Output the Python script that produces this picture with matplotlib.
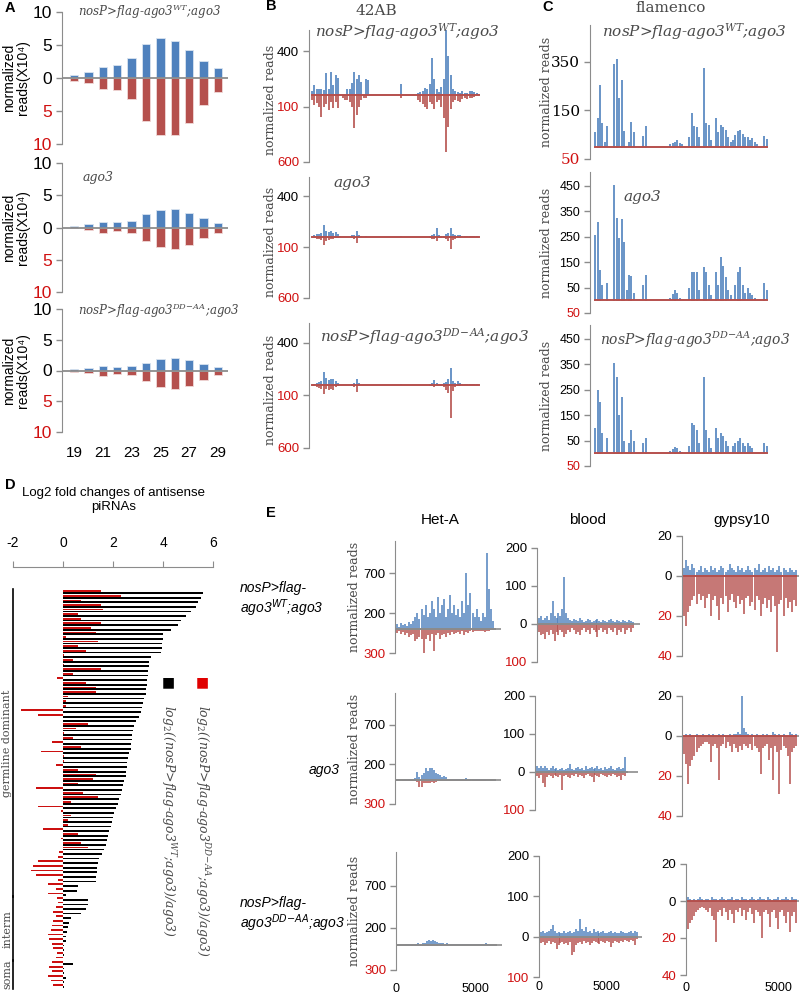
import matplotlib
matplotlib.use('Agg')
import matplotlib.pyplot as plt
import numpy as np

plt.rcParams['font.family'] = ['Liberation Sans', 'DejaVu Sans']

# ---------------- data ----------------
# A: length distribution of small RNAs, reads x10^4 (sense up, antisense down)
a_lengths = [19, 20, 21, 22, 23, 24, 25, 26, 27, 28, 29]
a_wt_sense = [0.5, 0.9, 1.7, 1.9, 3.1, 5.1, 6.0, 5.6, 4.3, 2.6, 1.5]
a_wt_anti = [0.4, 0.8, 1.7, 1.8, 3.2, 6.5, 8.6, 8.7, 6.8, 4.1, 2.1]
a_ago3_sense = [0.3, 0.5, 0.9, 0.8, 1.0, 2.1, 2.7, 2.8, 2.3, 1.4, 0.7]
a_ago3_anti = [0.15, 0.4, 0.8, 0.5, 0.9, 2.1, 3.0, 3.3, 2.7, 1.6, 0.8]
a_ddaa_sense = [0.3, 0.4, 0.8, 0.5, 0.7, 1.3, 1.9, 2.0, 1.7, 1.1, 0.6]
a_ddaa_anti = [0.2, 0.4, 0.9, 0.5, 0.8, 1.7, 2.7, 3.0, 2.6, 1.6, 0.8]

# B: 42AB cluster, normalized reads per bin
b_wt_up = [40, 90, 60, 55, 60, 50, 200, 60, 210, 90, 180, 160,
           0, 0, 0, 60, 60, 110, 210, 150, 180, 120, 0, 150,
           140, 0, 0, 0, 0, 0, 0, 0, 0, 0, 0, 0,
           0, 0, 100, 0, 0, 0, 0, 0, 0, 20, 30, 40,
           70, 60, 100, 340, 150, 60, 30, 80, 150, 590, 360, 180,
           60, 40, 30, 20, 40, 20, 20, 40, 40, 30, 20, 10]
b_wt_down = [40, 90, 70, 100, 190, 100, 80, 130, 60, 110, 60, 110,
             0, 20, 40, 40, 60, 100, 290, 180, 100, 40, 20, 20,
             0, 0, 0, 0, 0, 0, 0, 0, 0, 0, 0, 0,
             0, 0, 20, 0, 0, 0, 0, 0, 0, 40, 60, 80,
             100, 120, 60, 80, 120, 60, 40, 100, 200, 510, 280, 120,
             60, 40, 50, 60, 30, 20, 30, 20, 20, 10, 0, 0]
b_ago3_up = [0, 20, 30, 30, 40, 120, 60, 50, 60, 40, 50, 30,
             10, 0, 0, 0, 0, 20, 20, 60, 20, 10, 0, 10,
             0, 0, 0, 0, 0, 0, 0, 0, 0, 0, 0, 0,
             0, 0, 10, 0, 0, 0, 0, 0, 0, 0, 0, 0,
             0, 0, 10, 20, 30, 90, 20, 10, 10, 30, 40, 90,
             30, 15, 15, 15, 10, 10, 10, 10, 10, 10, 5, 0]
b_ago3_down = [0, 10, 20, 20, 30, 80, 40, 30, 20, 15, 10, 10,
               0, 0, 0, 0, 0, 10, 20, 60, 10, 0, 0, 0,
               0, 0, 0, 0, 0, 0, 0, 0, 0, 0, 0, 0,
               0, 0, 0, 0, 0, 0, 0, 0, 0, 0, 0, 0,
               0, 0, 10, 20, 20, 40, 10, 10, 10, 20, 40, 120,
               30, 20, 10, 10, 5, 5, 5, 5, 5, 5, 0, 0]
b_ddaa_up = [0, 10, 20, 30, 40, 120, 65, 50, 60, 55, 40, 20,
             0, 0, 0, 0, 0, 10, 20, 55, 15, 0, 0, 0,
             0, 0, 0, 0, 0, 0, 0, 0, 0, 0, 0, 0,
             0, 0, 10, 0, 0, 0, 0, 0, 0, 0, 0, 0,
             0, 0, 10, 20, 45, 20, 10, 10, 20, 30, 60, 160,
             40, 20, 35, 15, 10, 10, 10, 5, 5, 5, 5, 0]
b_ddaa_down = [0, 10, 20, 30, 40, 85, 40, 50, 40, 45, 20, 10,
               0, 0, 0, 0, 0, 10, 20, 65, 10, 0, 0, 0,
               0, 0, 0, 0, 0, 0, 0, 0, 0, 0, 0, 0,
               0, 0, 0, 0, 0, 0, 0, 0, 0, 0, 0, 0,
               0, 0, 10, 10, 20, 10, 10, 10, 20, 50, 80, 310,
               60, 20, 10, 10, 5, 0, 0, 0, 0, 0, 0, 0]

# C: flamenco cluster
c_wt_up = [60, 120, 256, 100, 20, 85, 0, 0, 340, 360, 200, 276,
           66, 0, 20, 104, 60, 0, 0, 0, 45, 87, 0, 0,
           0, 0, 0, 0, 0, 0, 0, 10, 15, 20, 30, 15,
           10, 0, 0, 40, 138, 87, 80, 40, 0, 324, 100, 90,
           30, 0, 117, 60, 90, 83, 70, 40, 20, 30, 50, 66,
           70, 55, 40, 40, 30, 35, 20, 10, 0, 0, 45, 33]
c_wt_down = [2, 3, 3, 2, 0, 2, 0, 0, 3, 3, 2, 3,
             2, 0, 0, 2, 2, 0, 0, 0, 2, 2, 0, 0,
             0, 0, 0, 0, 0, 0, 0, 0, 0, 0, 2, 0,
             0, 0, 0, 2, 3, 2, 2, 0, 0, 3, 2, 2,
             0, 0, 2, 2, 2, 2, 2, 0, 0, 0, 2, 2,
             2, 2, 0, 0, 0, 0, 0, 0, 0, 0, 2, 0]
c_ago3_up = [256, 307, 118, 60, 0, 70, 0, 0, 452, 322, 244, 320,
             230, 40, 100, 97, 30, 0, 0, 0, 60, 100, 0, 0,
             0, 0, 0, 0, 0, 0, 0, 10, 25, 40, 30, 10,
             0, 0, 0, 50, 110, 110, 110, 40, 0, 133, 110, 60,
             20, 0, 110, 60, 170, 135, 90, 40, 20, 0, 60, 110,
             133, 60, 30, 50, 30, 20, 10, 0, 0, 0, 70, 40]
c_ago3_down = [3, 3, 2, 0, 0, 2, 0, 0, 3, 3, 2, 2,
               2, 0, 2, 2, 0, 0, 0, 0, 0, 2, 0, 0,
               0, 0, 0, 0, 0, 0, 0, 0, 0, 2, 0, 0,
               0, 0, 0, 0, 2, 2, 2, 0, 0, 2, 2, 0,
               0, 0, 2, 0, 2, 2, 2, 0, 0, 0, 0, 2,
               2, 0, 0, 0, 0, 0, 0, 0, 0, 0, 2, 0]
c_ddaa_up = [100, 250, 200, 80, 0, 60, 0, 0, 355, 300, 150, 220,
             50, 0, 40, 90, 50, 0, 0, 0, 40, 60, 0, 0,
             0, 0, 0, 0, 0, 0, 0, 10, 15, 25, 20, 10,
             5, 0, 0, 30, 120, 110, 90, 40, 0, 300, 90, 60,
             20, 0, 100, 60, 80, 70, 50, 30, 0, 30, 40, 50,
             60, 40, 30, 40, 30, 20, 0, 0, 0, 0, 40, 30]
c_ddaa_down = [2, 3, 2, 0, 0, 0, 0, 0, 3, 2, 2, 2,
               0, 0, 0, 2, 0, 0, 0, 0, 0, 2, 0, 0,
               0, 0, 0, 0, 0, 0, 0, 0, 0, 2, 0, 0,
               0, 0, 0, 0, 2, 2, 0, 0, 0, 2, 0, 0,
               0, 0, 2, 0, 2, 0, 0, 0, 0, 0, 0, 2,
               0, 0, 0, 0, 0, 0, 0, 0, 0, 0, 2, 0]

# D: log2 fold changes of antisense piRNAs (germline dominant / intermediate / somatic)
d_black = [5.6, 5.5, 5.4, 5.3, 5.1, 4.9, 4.7, 4.6, 4.3,
           4.0, 4.0, 3.95, 3.95, 3.9,
           3.5, 3.45, 3.45, 3.4, 3.4, 3.35, 3.35, 3.3, 3.3, 3.25, 3.2, 3.15, 3.1, 3.05,
           2.9, 2.85, 2.8, 2.75, 2.75, 2.7, 2.7, 2.65, 2.6, 2.55,
           2.55, 2.5, 2.5, 2.45, 2.4, 2.35, 2.3,
           2.25, 2.2, 2.1, 2.05,
           2.0, 1.95, 1.9, 1.85,
           1.8, 1.75,
           1.7, 1.65, 1.55, 1.45, 1.4, 1.35, 1.35, 1.3, 1.3, 0.6, 0.55, 0.1,
           1.0, 1.0, 0.9, 0.7, 0.3, 0.25, 0.2, 0.15, 0.1, 0.1, 0.05, 0.05, 0.02, 0.0,
           0.4, 0.05, 0.05, 0.1, 0.05, 0.05]
d_red = [1.5, 2.3, 0.7, 1.5, 1.6, 0.6, 0.7, 1.5, 1.1,
         1.3, 0.1, 1.4, 0.6, 0.9,
         0.05, 0.4, 0.05, 1.5, 0.4, -0.25, 0.9, 1.3, 1.3, 0.2, 0.1, 0.1, -1.7, -1.0,
         0.0, 1.0, 0.5, 0.05, 0.4, -0.45, 0.7, -0.9, 0.05, 0.05,
         -0.3, 0.6, 1.3, 1.2, 0.6, -1.1, 0.8,
         1.4, 0.3, -1.0, -0.1,
         0.3, 0.2, 0.2, -0.8,
         0.6, -0.1,
         0.7, 1.0, -0.15, -0.2, -1.0, -1.2, -1.3, -1.1, -0.2, -0.6, -0.3, -0.6,
         -0.25, -0.2, -0.3, -0.4, -0.3, -0.4, -0.45, -0.5, -0.6, -0.55, -0.45, -0.4, -0.25, -0.3,
         -0.45, -0.55, -0.45, -0.6, -0.5, -0.4]
d_groups = ['germline dominant', 'interm', 'soma']
d_group_sizes = [67, 14, 6]
d_ticks = [-2, 0, 2, 4, 6]

# E: transposon coverage (Het-A, blood, gypsy10)
e_heta_wt_up = [40, 60, 30, 80, 50, 60, 40, 90, 60, 100,
                150, 200, 120, 250, 180, 300, 150, 200, 350, 250,
                150, 400, 200, 300, 380, 150, 250, 420, 200, 300,
                180, 250, 150, 350, 200, 700, 300, 450, 200, 150,
                250, 150, 100, 200, 150, 950, 500, 250, 100, 0]
e_heta_wt_down = [30, 50, 20, 60, 40, 80, 50, 100, 80, 60,
                  150, 120, 100, 120, 300, 120, 80, 150, 60, 280,
                  80, 50, 120, 80, 60, 100, 50, 80, 40, 60,
                  50, 40, 60, 30, 80, 40, 50, 30, 40, 20,
                  30, 20, 30, 20, 40, 30, 20, 10, 10, 0]
e_heta_ago3_up = [0, 0, 0, 0, 5, 10, 5, 10, 15, 20,
                  30, 100, 40, 60, 90, 160, 120, 150, 160, 130,
                  90, 80, 60, 40, 50, 40, 20, 20, 10, 15,
                  20, 10, 15, 10, 20, 25, 15, 20, 10, 15,
                  10, 20, 10, 15, 10, 0, 0, 0, 0, 0]
e_heta_ago3_down = [0, 0, 0, 0, 5, 5, 5, 10, 5, 10,
                    10, 20, 90, 80, 30, 40, 30, 40, 20, 30,
                    20, 10, 15, 10, 10, 5, 10, 5, 5, 10,
                    5, 5, 10, 5, 5, 10, 5, 5, 5, 5,
                    5, 5, 5, 5, 5, 0, 0, 0, 0, 0]
e_heta_ddaa_up = [0, 0, 0, 0, 0, 5, 5, 10, 5, 10,
                  10, 15, 10, 20, 20, 40, 60, 50, 60, 40,
                  30, 20, 20, 15, 10, 15, 10, 10, 5, 10,
                  10, 5, 10, 5, 10, 10, 5, 10, 5, 10,
                  5, 10, 5, 10, 15, 5, 0, 0, 0, 0]
e_heta_ddaa_down = [0, 0, 0, 0, 0, 5, 5, 5, 10, 5,
                    10, 5, 10, 15, 20, 15, 20, 10, 15, 10,
                    10, 5, 10, 5, 5, 10, 5, 5, 5, 5,
                    5, 5, 5, 5, 5, 5, 5, 5, 5, 5,
                    5, 5, 5, 5, 5, 0, 0, 0, 0, 0]

e_blood_wt_up = [10, 15, 20, 10, 15, 20, 10, 30, 60, 20,
                 15, 30, 20, 40, 125, 30, 15, 10, 8, 12,
                 10, 8, 15, 10, 5, 8, 12, 10, 6, 8,
                 10, 12, 8, 5, 10, 8, 6, 10, 12, 8,
                 5, 10, 8, 6, 10, 8, 5, 10, 8, 5]
e_blood_wt_down = [15, 20, 30, 25, 40, 20, 30, 15, 25, 45,
                   20, 30, 15, 20, 35, 25, 15, 20, 10, 15,
                   25, 20, 30, 15, 10, 20, 15, 25, 10, 15,
                   20, 35, 15, 10, 20, 15, 25, 10, 15, 20,
                   10, 30, 15, 20, 10, 25, 15, 10, 20, 10]
e_blood_ago3_up = [40, 15, 10, 15, 10, 15, 10, 5, 10, 15,
                   8, 10, 5, 8, 10, 6, 8, 10, 20, 8,
                   5, 10, 12, 8, 10, 6, 15, 8, 10, 12,
                   8, 10, 15, 8, 10, 6, 12, 8, 10, 15,
                   8, 6, 10, 12, 8, 10, 40, 0]
e_blood_ago3_down = [5, 10, 15, 8, 30, 40, 12, 8, 10, 15,
                     8, 10, 12, 8, 47, 10, 8, 12, 15, 8,
                     10, 6, 12, 8, 10, 15, 8, 6, 10, 12,
                     25, 8, 10, 12, 6, 8, 10, 12, 8, 10,
                     6, 8, 12, 10, 20, 8, 10, 0]
e_blood_ddaa_up = [10, 12, 15, 10, 12, 15, 20, 28, 15, 10,
                   12, 10, 8, 15, 10, 12, 15, 10, 12, 20,
                   15, 45, 20, 15, 25, 12, 15, 10, 20, 12,
                   15, 10, 12, 15, 10, 8, 12, 15, 10, 12,
                   8, 10, 15, 12, 10, 8, 12, 15, 10, 15, 12]
e_blood_ddaa_down = [10, 15, 12, 20, 15, 10, 18, 12, 15, 30,
                     20, 15, 12, 18, 15, 20, 12, 45, 38, 20,
                     15, 12, 18, 10, 15, 12, 20, 15, 10, 12,
                     15, 18, 10, 12, 15, 10, 12, 25, 15, 10,
                     12, 15, 10, 12, 8, 10, 12, 8, 10, 20, 5]

e_gyp_wt_up = [6, 4, 8, 5, 3, 6, 4, 2, 3, 5, 2, 4, 3, 2, 5, 3, 4, 2, 3, 5,
               4, 2, 3, 6, 4, 3, 2, 5, 3, 4, 2, 3, 5, 3, 2, 4, 3, 6, 2, 3,
               4, 2, 5, 3, 4, 2, 3, 5, 2, 4, 3, 2, 4, 3, 2, 3]
e_gyp_wt_down = [38, 20, 25, 18, 15, 12, 10, 14, 9, 12, 10, 16, 11, 9, 20, 12, 10, 15, 22, 11,
                 14, 10, 18, 12, 9, 13, 16, 10, 14, 12, 19, 11, 10, 15, 13, 17, 10, 12, 20, 14,
                 11, 16, 12, 18, 10, 15, 38, 14, 12, 20, 11, 16, 13, 18, 12, 15]
e_gyp_ago3_up = [1, 0, 1, 0, 1, 0, 0, 1, 0, 0, 1, 0, 0, 1, 0, 1, 0, 0, 1, 0,
                 1, 0, 0, 1, 0, 1, 1, 2, 1, 20, 4, 2, 1, 0, 1, 0, 1, 0, 0, 1,
                 0, 1, 0, 0, 2, 1, 0, 1, 0, 1, 0, 0, 2, 1, 0, 1]
e_gyp_ago3_down = [24, 9, 14, 24, 15, 12, 10, 8, 6, 5, 4, 3, 3, 4, 13, 5, 4, 6, 22, 5,
                   4, 6, 3, 5, 8, 4, 6, 8, 5, 7, 4, 5, 6, 4, 7, 5, 6, 8, 19, 6,
                   5, 4, 12, 6, 22, 5, 8, 29, 7, 5, 6, 10, 24, 8, 6, 5]
e_gyp_ddaa_up = [1, 2, 1, 0, 1, 0, 1, 2, 1, 0, 1, 1, 0, 2, 1, 1, 0, 1, 2, 1,
                 0, 1, 1, 2, 0, 1, 1, 0, 2, 1, 1, 0, 1, 2, 1, 0, 1, 2, 1, 1,
                 0, 2, 1, 0, 1, 1, 2, 0, 1, 1, 2, 1, 0, 2, 1, 1]
e_gyp_ddaa_down = [19, 15, 12, 10, 8, 6, 5, 4, 3, 4, 5, 6, 4, 8, 10, 22, 6, 5, 8, 4,
                   6, 10, 5, 7, 12, 5, 6, 4, 8, 5, 10, 6, 4, 7, 12, 5, 6, 8, 20, 6,
                   5, 7, 14, 6, 5, 9, 15, 6, 5, 8, 12, 6, 17, 8, 6, 12]

e_columns = ['Het-A', 'blood', 'gypsy10']
e_bin = [128, 144, 108]          # nucleotides per bin
e_xmax = [6650, 7600, 6100]
e_yticks = [[700, 200, -300], [200, 100, 0, -100], [20, 0, -20, -40]]
e_ylabels = [['700', '200', '300'], ['200', '100', '0', '100'], ['20', '0', '20', '40']]
e_nblack = [2, 3, 2]
e_ylim = [(-300, 1100), (-100, 200), (-40, 20)]

geno = ['nosP>flag-ago3$^{WT}$;ago3', 'ago3', 'nosP>flag-ago3$^{DD\\!-\\!AA}$;ago3']

# ---------------- style ----------------
W, H = 799, 999
BLUE = '#4F81BD'
RED = '#B5504D'
TICKRED = '#D01010'
GRAY = '#8C8C8C'
TXT = '#4A4A4A'
SERIF = ['DejaVu Serif']

fig = plt.figure(figsize=(W / 100, H / 100), dpi=100)


def px_axes(left, top, right, bottom):
    return fig.add_axes([left / W, 1 - bottom / H, (right - left) / W, (bottom - top) / H])


def ftext(x, y, s, **kw):
    return fig.text(x / W, 1 - y / H, s, **kw)


def y_axis(ax, ticks, labels, n_black, size=9, family=None):
    ax.set_yticks(ticks)
    ax.set_yticklabels(labels, fontsize=size, fontfamily=family or ['Liberation Sans', 'DejaVu Sans'])
    for k, t in enumerate(ax.get_yticklabels()):
        t.set_color('black' if k < n_black else TICKRED)
    for s in ('top', 'right', 'bottom'):
        ax.spines[s].set_visible(False)
    ax.spines['left'].set_color(GRAY)
    ax.tick_params(axis='y', length=4, width=1, color=GRAY, pad=3)
    ax.tick_params(axis='x', length=0, labelbottom=False)
    ax.patch.set_visible(False)


def track(ax, up, down, step=1.0, lw=1.2, base=RED):
    # spiky coverage profile: sense above the axis, antisense mirrored below
    xu = np.arange(len(up)) * step
    xd = np.arange(len(down)) * step
    ax.vlines(xu, 0, up, color=BLUE, lw=lw)
    ax.vlines(xd, 0, -np.asarray(down), color=RED, lw=lw)
    ax.plot([0, max(xu[-1], xd[-1])], [0, 0], color=base, lw=1.4)


# ---------------- A ----------------
a_sets = [(a_wt_sense, a_wt_anti), (a_ago3_sense, a_ago3_anti), (a_ddaa_sense, a_ddaa_anti)]
a_rows = [(12, 144), (163, 292), (309, 432)]
a_label_y = [12, 178, 311]
for k, ((s, a), (top, bot)) in enumerate(zip(a_sets, a_rows)):
    ax = px_axes(62, top, 228, bot)
    ax.bar(a_lengths, s, width=0.58, color=BLUE, edgecolor='#D9E3F0', lw=0.6)
    ax.bar(a_lengths, -np.array(a), width=0.58, color=RED, edgecolor='#F0D9D8', lw=0.6)
    ax.axhline(0, color=GRAY, lw=1.3)
    ax.set_xlim(18.17, 29.7)
    ax.set_ylim(-10, 10)
    y_axis(ax, [10, 5, 0, -5, -10], ['10', '5', '0', '5', '10'], 3, size=12.5)
    if k == 2:
        ax.set_xticks(a_lengths[::2])
        ax.set_xticklabels([str(v) for v in a_lengths[::2]], fontsize=11)
        ax.tick_params(axis='x', labelbottom=True, pad=10)
    ftext(16, (top + bot) / 2, 'normalized\nreads(X10⁴)', rotation=90, ha='center', va='center',
          fontsize=10, linespacing=1.0)
    ftext(78 if k != 1 else 83, a_label_y[k], geno[k], family=SERIF, style='italic',
          math_fontfamily='dejavuserif', color=TXT, fontsize=8.5 if k != 1 else 9, va='center')

# ---------------- B ----------------
b_sets = [(b_wt_up, b_wt_down), (b_ago3_up, b_ago3_down), (b_ddaa_up, b_ddaa_down)]
b_rows = [(30, 162), (177, 298), (323, 448)]
b_label_xy = [(315, 32), (333, 183), (320, 337)]
for k, ((u, d), (top, bot)) in enumerate(zip(b_sets, b_rows)):
    ax = px_axes(309, top, 482, bot)
    track(ax, u, d)
    ax.set_xlim(-1.3, 72.3)
    ax.set_ylim(-600, 590)
    y_axis(ax, [400, -100, -600], ['400', '100', '600'], 1, size=9.5)
    ftext(270, (top + bot) / 2 + 4, 'normalized reads', rotation=90, ha='center', va='center',
          family=SERIF, color=TXT, fontsize=9)
    ftext(b_label_xy[k][0], b_label_xy[k][1], geno[k], family=SERIF, style='italic',
          math_fontfamily='dejavuserif', color=TXT, fontsize=11, va='center')
ftext(376, 11, '42AB', family=SERIF, color=TXT, fontsize=11, ha='center', va='center')

# ---------------- C ----------------
c_sets = [(c_wt_up, c_wt_down), (c_ago3_up, c_ago3_down), (c_ddaa_up, c_ddaa_down)]
c_rows = [(25, 159), (172, 313), (325, 466)]
c_label_xy = [(602, 32), (623, 197), (600, 340)]
for k, ((u, d), (top, bot)) in enumerate(zip(c_sets, c_rows)):
    ax = px_axes(590, top, 770, bot)
    track(ax, u, d)
    ax.set_xlim(-2.1, 72.3)
    if k == 0:
        ax.set_ylim(-50, 502)
        y_axis(ax, [350, 150, -50], ['350', '150', '50'], 2, size=11, family=SERIF)
    else:
        ax.set_ylim(-50, 505)
        y_axis(ax, [450, 350, 250, 150, 50, -50], ['450', '350', '250', '150', '50', '50'], 5, size=9)
    ftext(546, (top + bot) / 2, 'normalized reads', rotation=90, ha='center', va='center',
          family=SERIF, color=TXT, fontsize=9)
    ftext(c_label_xy[k][0], c_label_xy[k][1], geno[k], family=SERIF, style='italic',
          math_fontfamily='dejavuserif', color=TXT, fontsize=11 if k < 2 else 10, va='center')
ftext(671, 8, 'flamenco', family=SERIF, color=TXT, fontsize=11, ha='center', va='center')

# ---------------- D ----------------
axd = px_axes(13, 567, 213, 990)
n_d = len(d_black)
pos = np.arange(n_d)
axd.barh(pos + 0.2, d_black, height=0.38, color='black')
axd.barh(pos - 0.2, d_red, height=0.38, color='#CC1010')
axd.set_xlim(-2, 6)
axd.set_ylim(n_d - 0.1, -5.5)
axd.xaxis.tick_top()
axd.set_xticks(d_ticks)
axd.set_xticklabels([str(t) for t in d_ticks], fontsize=10)
axd.tick_params(axis='x', length=4, color=GRAY, pad=8)
axd.set_yticks([])
for s in ('bottom', 'left', 'right'):
    axd.spines[s].set_visible(False)
axd.spines['top'].set_color(GRAY)
axd.patch.set_visible(False)
start = 0
for name, n in zip(d_groups, d_group_sizes):
    y0, y1 = start - 0.6, start + n - 0.4
    axd.plot([-2, -2], [y0, y1], color='black', lw=1.2, clip_on=False)
    axd.text(-2.22, (y0 + y1) / 2, name, rotation=90, ha='center', va='center',
             family=SERIF, color=TXT, fontsize=8)
    start += n
ftext(114, 500, 'Log2 fold changes of antisense\npiRNAs', ha='center', va='center', fontsize=9.5,
      linespacing=1.15)
ftext(168, 682, '■', color='black', fontsize=10, ha='center', va='center', family=['DejaVu Sans'])
ftext(202, 682, '■', color='#E00000', fontsize=10, ha='center', va='center', family=['DejaVu Sans'])
ftext(168, 705, 'log$_2$((nosP>flag-ago3$^{WT}$;ago3)/ago3)', rotation=-90, ha='center', va='top',
      family=SERIF, style='italic', math_fontfamily='dejavuserif', color=TXT, fontsize=9)
ftext(202, 705, 'log$_2$((nosP>flag-ago3$^{DD\\!-\\!AA}$;ago3)/ago3)', rotation=-90, ha='center', va='top',
      family=SERIF, style='italic', math_fontfamily='dejavuserif', color=TXT, fontsize=9)

# ---------------- E ----------------
e_sets = [
    [(e_heta_wt_up, e_heta_wt_down), (e_heta_ago3_up, e_heta_ago3_down), (e_heta_ddaa_up, e_heta_ddaa_down)],
    [(e_blood_wt_up, e_blood_wt_down), (e_blood_ago3_up, e_blood_ago3_down), (e_blood_ddaa_up, e_blood_ddaa_down)],
    [(e_gyp_wt_up, e_gyp_wt_down), (e_gyp_ago3_up, e_gyp_ago3_down), (e_gyp_ddaa_up, e_gyp_ddaa_down)],
]
e_boxes = [
    [(395, 541, 501, 653), (395, 693, 501, 804), (396, 852, 502, 970)],
    [(537, 548, 640, 662), (535, 696, 638, 810), (539, 856, 642, 977)],
    [(682, 536, 799, 656), (682, 696, 799, 816), (686, 864, 799, 975)],
]
e_xpad = [9, 3, 5]
e_title_x = [440, 588, 742]
for c in range(3):
    for r in range(3):
        l, t, rr, b = e_boxes[c][r]
        ax = px_axes(l, t, rr, b)
        u, d = e_sets[c][r]
        track(ax, u, d, step=e_bin[c], lw=1.1, base=GRAY if c < 2 else RED)
        ax.axhline(0, color=GRAY, lw=1.2, zorder=0)
        ax.set_xlim(0, e_xmax[c])
        ax.set_ylim(*e_ylim[c])
        y_axis(ax, e_yticks[c], e_ylabels[c], e_nblack[c], size=9.5)
        if r == 2:
            ax.set_xticks([0, 5000])
            ax.set_xticklabels(['0', '5000'], fontsize=9)
            ax.tick_params(axis='x', labelbottom=True, pad=e_xpad[c])
        if c == 0:
            ftext(355, (t + b) / 2, 'normalized reads', rotation=90, ha='center', va='center',
                  family=SERIF, color=TXT, fontsize=9)
    ftext(e_title_x[c], 520, e_columns[c], ha='center', va='center', fontsize=11)

ftext(240, 600, 'nosP>flag-\nago3$^{WT}$;ago3', ha='left', va='center', style='italic', fontsize=10,
      math_fontfamily='dejavusans', linespacing=1.1)
ftext(340, 770, 'ago3', ha='right', va='center', style='italic', fontsize=10)
ftext(240, 915, 'nosP>flag-\nago3$^{DD\\!-\\!AA}$;ago3', ha='left', va='center', style='italic',
      fontsize=10, math_fontfamily='dejavusans', linespacing=1.1)

# panel letters
for letter, x, y in [('A', 5, 8), ('B', 266, 6), ('C', 542, 7), ('D', 5, 485), ('E', 266, 513)]:
    ftext(x, y, letter, fontweight='bold', fontsize=10.5, ha='left', va='center')

fig.savefig('out.png', dpi=100)
